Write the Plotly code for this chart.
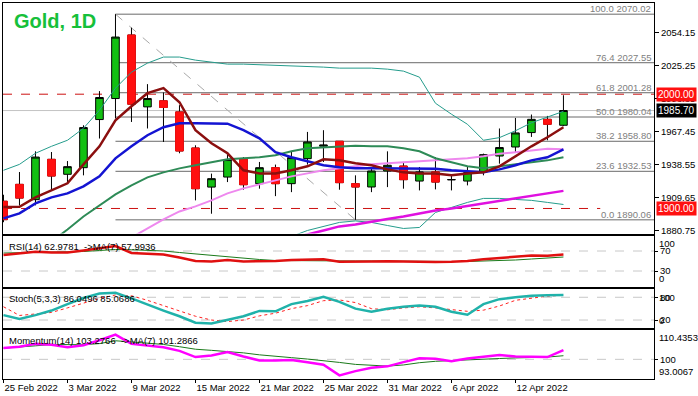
import plotly.graph_objects as go

# ---------------- data ----------------
tick_idx = [0, 4, 8, 12, 16, 20, 24, 28, 32]
tick_text = ["25 Feb 2022", "3 Mar 2022", "9 Mar 2022", "15 Mar 2022", "21 Mar 2022",
             "25 Mar 2022", "31 Mar 2022", "6 Apr 2022", "12 Apr 2022"]

open_ = [1906.3, 1921.1, 1907.7, 1943.0, 1929.9, 1935.7, 1977.8, 1996.2, 2051.8, 1988.9,
         1994.2, 1984.5, 1952.9, 1918.7, 1927.5, 1943.0, 1921.7, 1935.7, 1921.7, 1943.6,
         1954.5, 1958.8, 1921.7, 1918.8, 1932.8, 1937.1, 1924.0, 1932.0, 1925.0, 1924.0,
         1932.0, 1945.9, 1953.8, 1966.4, 1978.0, 1972.8]
high = [1912.0, 1931.9, 1950.0, 1949.4, 1941.5, 1972.8, 2002.7, 2070.02, 2058.2, 2008.8,
        2001.5, 1990.4, 1955.3, 1930.5, 1949.4, 1945.0, 1940.7, 1938.4, 1949.4, 1967.0,
        1968.5, 1958.8, 1929.0, 1936.3, 1950.0, 1940.7, 1936.3, 1945.0, 1929.0, 1937.1,
        1948.0, 1970.0, 1979.2, 1982.2, 1981.0, 1999.1]
low = [1888.0, 1902.7, 1902.7, 1915.8, 1923.1, 1929.0, 1961.2, 1978.7, 1975.7, 1970.0,
       1958.2, 1948.3, 1907.1, 1895.4, 1923.1, 1916.4, 1917.3, 1910.8, 1914.3, 1938.4,
       1940.7, 1916.4, 1890.06, 1914.3, 1918.7, 1917.3, 1915.8, 1916.7, 1915.8, 1920.2,
       1929.0, 1939.2, 1949.4, 1962.6, 1959.7, 1972.0]
close = [1890.2, 1909.1, 1945.0, 1928.4, 1936.6, 1970.8, 1997.1, 2050.0, 1991.3, 1996.2,
         1988.4, 1950.3, 1917.3, 1926.1, 1942.8, 1920.8, 1935.7, 1921.7, 1944.5, 1958.2,
         1955.5, 1922.6, 1918.8, 1932.8, 1937.8, 1925.2, 1932.0, 1923.1, 1925.3, 1931.4,
         1947.1, 1953.3, 1966.1, 1978.0, 1973.7, 1985.70]

ma_fast = [1901.2, 1901.4, 1909.7, 1915.8, 1922.0, 1938.6, 1954.4, 1977.2, 1989.5, 2000.9,
           2005.3, 1993.0, 1968.5, 1957.1, 1948.3, 1933.4, 1930.7, 1930.7, 1933.4, 1936.9,
           1943.0, 1942.1, 1939.5, 1937.8, 1934.2, 1931.6, 1930.7, 1930.7, 1929.0, 1930.7,
           1931.6, 1936.9, 1945.6, 1954.4, 1962.3, 1971.1]
ma_blue = [1891.3, 1895.7, 1904.4, 1909.7, 1913.2, 1919.3, 1928.1, 1943.9, 1954.4, 1964.1,
           1971.1, 1974.6, 1974.6, 1974.6, 1974.2, 1968.5, 1961.4, 1949.2, 1944.8, 1941.3,
           1937.8, 1936.0, 1935.1, 1935.1, 1935.1, 1935.1, 1935.1, 1934.7, 1933.4, 1932.5,
           1931.6, 1934.2, 1937.8, 1942.1, 1944.8, 1951.8]
ma_green = [1839.5, 1850.0, 1860.6, 1871.0, 1881.6, 1893.0, 1902.7, 1912.3, 1920.2, 1927.2,
            1931.6, 1935.1, 1937.8, 1940.4, 1943.0, 1944.0, 1944.8, 1946.5, 1950.0, 1952.7,
            1953.5, 1954.4, 1954.9, 1954.4, 1954.4, 1952.7, 1950.0, 1944.0, 1940.4, 1936.9,
            1935.1, 1936.9, 1938.6, 1940.4, 1942.1, 1944.8]
ma_violet = [None, None, None, None, None, None, None, 1866.7, 1874.6, 1882.5,
             1890.4, 1897.4, 1901.8, 1907.1, 1913.2, 1917.6, 1921.1, 1924.6, 1928.1, 1930.7,
             1933.4, 1935.1, 1936.9, 1938.6, 1939.5, 1940.4, 1941.3, 1942.6, 1943.5, 1944.0,
             1945.6, 1947.8, 1949.2, 1950.9, 1952.2, 1951.8]
ma_magenta = [None] * 17 + [1871.0, 1874.0, 1877.2, 1880.75, 1884.3, 1886.0, 1888.6, 1890.8,
                            1893.0, 1895.7, 1898.3, 1900.0, 1902.2, 1904.4, 1907.1, 1909.3,
                            1911.4, 1913.2, 1915.4]
band_upper = [1933.4, 1938.6, 1948.3, 1954.4, 1959.7, 1970.2, 1986.0, 2005.3, 2019.3, 2027.2,
              2032.5, 2032.5, 2029.8, 2028.1, 2026.3, 2026.3, 2025.9, 2025.5, 2024.6, 2024.1,
              2023.7, 2022.8, 2022.8, 2022.8, 2021.9, 2020.2, 2014.9, 1992.1, 1982.5, 1973.7,
              1959.7, 1962.0, 1968.0, 1975.0, 1980.0, 1985.0]
band_lower = [None] * 17 + [1872.0, 1875.5, 1880.75, 1884.3, 1887.8, 1889.1, 1887.8, 1885.1,
                            1882.5, 1883.4, 1896.5, 1900.9, 1905.3, 1908.8, 1908.8, 1907.9,
                            1907.1, 1905.3, 1903.5]

rsi = [62, 66, 68.5, 67, 67, 71, 76, 80, 66, 64.5, 63, 57, 50, 49, 52, 49, 49, 50, 52, 53.5,
       53.5, 48.5, 48, 49, 49.5, 48.5, 48.5, 48, 48.5, 50, 53.5, 56, 58.5, 61, 60.5, 62.98]
rsi_ma = [66, 66.5, 67, 67.5, 68, 69, 71, 73, 72.5, 71.5, 70, 67, 64, 61, 58, 55.5, 53, 51,
          50.5, 50.5, 51, 50.5, 50, 50, 49.5, 49.5, 49, 49, 49, 49, 49.5, 50.5, 52, 54, 56, 57.99]
stoch_k = [33, 23, 33, 45, 62, 78, 90, 92, 77, 60, 45, 30, 13, 11, 20, 30, 44, 43, 62, 70,
           81, 68, 50, 42, 50, 55, 58, 55, 42, 34, 62, 75, 80, 84, 85, 86.05]
stoch_d = [55, 32, 36, 40, 52, 65, 77, 86, 84, 72, 58, 44, 30, 20, 16, 20, 31, 38, 50, 58,
           71, 73, 66, 50, 47, 52, 55, 52, 47, 43, 46, 57, 72, 78, 83, 85.07]
mom = [104, 104.5, 105.5, 105.2, 104.3, 105, 106.8, 108.8, 105.5, 104.8, 104.3, 103, 100.8,
       101.4, 102.6, 101, 99.6, 99.6, 99.8, 99, 98.1, 94.3, 95.8, 97, 97.5, 99, 100.4, 100.2,
       99.3, 100.3, 100.8, 101.5, 101, 100.9, 100.8, 103.28]
mom_ma = [104, 104.3, 104.8, 105.3, 105.2, 105.2, 105.6, 106.6, 106.2, 105.8, 105.3, 104.5,
          103.6, 103.2, 102.8, 102.3, 101.6, 101, 100.6, 100.1, 99.6, 98.9, 98.2, 97.8, 97.6,
          98, 98.8, 99.3, 99.6, 99.8, 100.1, 100.3, 100.5, 100.6, 100.8, 101.29]

fib_pct = [100.0, 76.4, 61.8, 50.0, 38.2, 23.6, 0.0]
fib_val = [2070.02, 2027.55, 2001.28, 1980.04, 1958.80, 1932.53, 1890.06]
fib_start, fib_end = 7, 22           # bars of the swing high / swing low
price_ticks = [1880.75, 1909.65, 1938.55, 1967.45, 1996.35, 2025.25, 2054.15]
level_2000, level_1900, bid = 2000.00, 1900.00, 1985.70
level_1900_end = 37.3

title = "Gold, 1D"
rsi_label = "RSI(14) 62.9781 \u00a0->MA(7) 57.9936"
sto_label = "Stoch(5,3,3) 86.0496 85.0686"
mom_label = "Momentum(14) 103.2766 \u00a0->MA(7) 101.2866"
mom_max, mom_min = 110.4353, 93.0067

# ---------------- layout helpers ----------------
W, H = 698, 396
ML, MR, MT, MB = 3, 44, 3, 17
PH = H - MT - MB
def fy(px):
    return (H - MB - px) / PH

XR = [-0.03, 40.66]
FONT = "Liberation Sans, Arial, sans-serif"
FS = 9.5
idx = list(range(len(close)))

fig = go.Figure()

def line(y, color, width, axis="y", dash=None):
    fig.add_trace(go.Scatter(x=idx, y=y, mode="lines", yaxis=axis,
                             xaxis={"y": "x", "y2": "x2", "y3": "x3", "y4": "x4"}[axis],
                             line=dict(color=color, width=width, dash=dash),
                             connectgaps=False, hoverinfo="skip", showlegend=False))

# main panel lines
line(band_upper, "#259c8c", 1)
line(band_lower, "#259c8c", 1)
line(ma_magenta, "#e010e0", 2.5)
line(ma_violet, "#ee88ee", 2)
line(ma_green, "#2e8b57", 2)
line(ma_blue, "#1414d2", 2.5)
line(ma_fast, "#8b0f0f", 2.5)

# candles: all candles with black outline/wicks
fig.add_trace(go.Candlestick(
    x=idx, open=open_, high=high, low=low, close=close,
    increasing=dict(fillcolor="#12c012", line=dict(color="#000000", width=1)),
    decreasing=dict(fillcolor="#ff0f0f", line=dict(color="#000000", width=1)),
    whiskerwidth=0, hoverinfo="skip", showlegend=False))
# red bodies redrawn with red outline
body_hi = [max(o, c) for o, c in zip(open_, close)]
body_lo = [min(o, c) for o, c in zip(open_, close)]
fig.add_trace(go.Candlestick(
    x=idx, open=open_, high=body_hi, low=body_lo, close=close,
    increasing=dict(fillcolor="rgba(0,0,0,0)", line=dict(color="rgba(0,0,0,0)", width=1)),
    decreasing=dict(fillcolor="#ff0f0f", line=dict(color="#ff0f0f", width=1)),
    whiskerwidth=0, hoverinfo="skip", showlegend=False))

# sub panels
line(rsi_ma, "#1a7a1a", 1, "y2")
line(rsi, "#e01010", 2.5, "y2")
line(stoch_d, "#ff2020", 1, "y3", "dot")
line(stoch_k, "#20b2aa", 2.5, "y3")
line(mom_ma, "#1a7a1a", 1, "y4")
line(mom, "#ff00ff", 2.5, "y4")

shapes = []
# fib levels
for v in fib_val:
    shapes.append(dict(type="line", xref="x", yref="y", x0=fib_start, x1=XR[1], y0=v, y1=v,
                       line=dict(color="#6a6a6a", width=1), layer="below"))
shapes.append(dict(type="line", xref="x", yref="y", x0=fib_start, x1=fib_end,
                   y0=high[fib_start], y1=low[fib_end],
                   line=dict(color="#a8a8a8", width=1, dash="dash"), layer="below"))
shapes.append(dict(type="line", xref="paper", yref="y", x0=0, x1=1, y0=bid, y1=bid,
                   line=dict(color="#c4c4c4", width=1), layer="below"))
shapes.append(dict(type="line", xref="paper", yref="y", x0=0, x1=1, y0=level_2000, y1=level_2000,
                   line=dict(color="#cc1111", width=1, dash="dash"), layer="below"))
shapes.append(dict(type="line", xref="x", yref="y", x0=XR[0], x1=level_1900_end, y0=level_1900,
                   y1=level_1900, line=dict(color="#cc1111", width=1, dash="dash"), layer="below"))
for v in (70, 30):
    shapes.append(dict(type="line", xref="paper", yref="y2", x0=0, x1=1, y0=v, y1=v,
                       line=dict(color="#c8c8c8", width=1, dash="dash"), layer="below"))
for v in (80, 20):
    shapes.append(dict(type="line", xref="paper", yref="y3", x0=0, x1=1, y0=v, y1=v,
                       line=dict(color="#c8c8c8", width=1, dash="dash"), layer="below"))
shapes.append(dict(type="line", xref="paper", yref="y4", x0=0, x1=1, y0=100, y1=100,
                   line=dict(color="#c8c8c8", width=1, dash="dash"), layer="below"))

ann = []
ann.append(dict(text="<b>" + title + "</b>", xref="paper", yref="paper",
                x=(12 - ML) / (W - ML - MR), y=fy(21),
                xanchor="left", yanchor="middle", showarrow=False,
                font=dict(family=FONT, size=20, color="#16c03a")))
for p, v in zip(fib_pct, fib_val):
    ann.append(dict(text=f"{p:.1f} {v:.2f}", xref="paper", yref="y", x=1, y=v, xanchor="right",
                    yanchor="bottom", xshift=-1, yshift=-2, showarrow=False,
                    font=dict(family=FONT, size=FS, color="#808080")))
for v, bg in ((level_2000, "#ff1010"), (bid, "#000000"), (level_1900, "#ff1010")):
    ann.append(dict(text=f"{v:.2f}", xref="paper", yref="y", x=1, y=v, xanchor="left",
                    yanchor="middle", xshift=2, showarrow=False, bgcolor=bg, borderpad=1,
                    font=dict(family=FONT, size=FS + 0.5, color="#ffffff")))
for txt, ax, shift in ((rsi_label, "y2 domain", -3), (sto_label, "y3 domain", -2),
                       (mom_label, "y4 domain", -3)):
    ann.append(dict(text=txt, xref="paper", yref=ax, x=(7 - ML) / (W - ML - MR), y=1,
                    xanchor="left", yanchor="top", yshift=shift, showarrow=False,
                    font=dict(family=FONT, size=FS, color="#000000")))
for txt, ax, yv, anc in (("100", "y2", 100, "top"), ("0", "y2", 0, "bottom"),
                         ("100", "y3", 100, "top"), ("0", "y3", 0, "bottom"),
                         (f"{mom_max:.4f}", "y4", mom_max, "top"),
                         (f"{mom_min:.4f}", "y4", mom_min, "bottom")):
    ann.append(dict(text=txt, xref="paper", yref=ax, x=1, y=yv, xanchor="left", yanchor=anc,
                    xshift=3, showarrow=False, font=dict(family=FONT, size=FS, color="#000000")))

axis_common = dict(showline=True, linecolor="#000000", linewidth=1, mirror=True,
                   showgrid=False, zeroline=False, ticks="outside", tickcolor="#000000",
                   ticklen=3, tickfont=dict(family=FONT, size=FS, color="#000000"))
no_ticks = {k: v for k, v in axis_common.items() if k != "ticks"}

fig.update_layout(
    width=W, height=H, margin=dict(l=ML, r=MR, t=MT, b=MB),
    paper_bgcolor="#ffffff", plot_bgcolor="#ffffff", showlegend=False,
    boxgap=0.32, hovermode=False, dragmode=False,
    xaxis=dict(domain=[0, 1], anchor="y", range=XR, showticklabels=False, ticks="",
               rangeslider=dict(visible=False), **no_ticks),
    xaxis2=dict(domain=[0, 1], anchor="y2", range=XR, matches="x", showticklabels=False,
                ticks="", **no_ticks),
    xaxis3=dict(domain=[0, 1], anchor="y3", range=XR, matches="x", showticklabels=False,
                ticks="", **no_ticks),
    xaxis4=dict(domain=[0, 1], anchor="y4", range=XR, matches="x", tickmode="array",
                tickvals=tick_idx, ticktext=tick_text, ticklabelposition="outside right",
                **axis_common),
    yaxis=dict(domain=[fy(233.5), 1], anchor="x", side="right", range=[1878.1, 2079.8],
               tickmode="array", tickvals=price_ticks,
               ticktext=[f"{t:.2f}" for t in price_ticks], **{**axis_common, "ticklen": 4}),
    yaxis2=dict(domain=[fy(287), fy(235.5)], anchor="x2", side="right", range=[-2, 101],
                tickmode="array", tickvals=[70, 30], **axis_common),
    yaxis3=dict(domain=[fy(328), fy(289)], anchor="x3", side="right", range=[-1, 101.8],
                tickmode="array", tickvals=[80, 20], **axis_common),
    yaxis4=dict(domain=[0, fy(330)], anchor="x4", side="right", range=[mom_min, mom_max],
                tickmode="array", tickvals=[100], **axis_common),
    shapes=shapes, annotations=ann,
)

fig.write_html("out.html", config={"displayModeBar": False, "staticPlot": True},
               post_script="document.body.style.margin='0';document.body.style.padding='0';")
